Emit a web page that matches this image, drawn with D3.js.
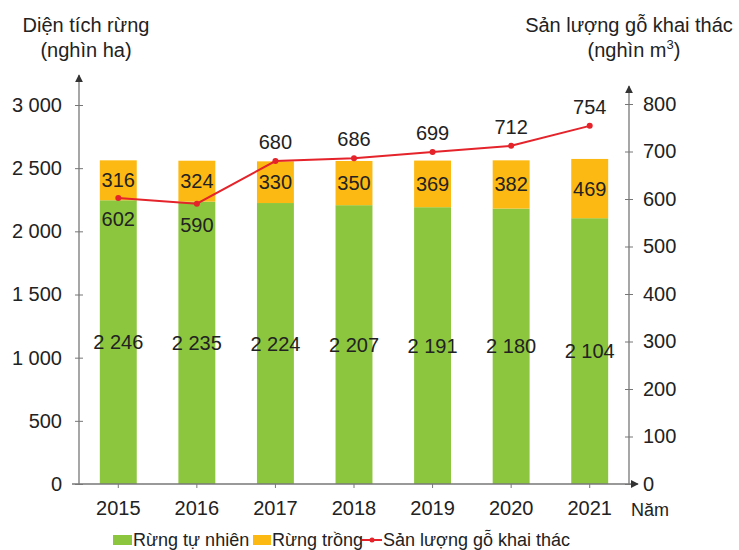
<!DOCTYPE html>
<html><head><meta charset="utf-8">
<script src="https://cdn.jsdelivr.net/npm/d3@7"></script>
<style>body{margin:0;background:#fff;}svg{display:block;font-family:"Liberation Sans",Arial,sans-serif;}</style>
</head><body>
<svg id="c" width="739" height="550"></svg>
<script>
const years = ["2015","2016","2017","2018","2019","2020","2021"];
const natural = [2246,2235,2224,2207,2191,2180,2104];
const planted = [316,324,330,350,369,382,469];
const timber = [602,590,680,686,699,712,754];
const leftTicks = [0,500,1000,1500,2000,2500,3000];
const rightTicks = [0,100,200,300,400,500,600,700,800];
const labelBelow = [true,true,false,false,false,false,false];

const C_GREEN = "#8cc63e", C_ORANGE = "#fdb913", C_RED = "#e4232a", AX = "#777";
const FS = "20px";
const svg = d3.select("#c");
const x = d3.scaleBand().domain(years).range([79,629]).paddingInner(0.53).paddingOuter(0.265);
const yL = d3.scaleLinear().domain([0,3000]).range([484,105]);
const yR = d3.scaleLinear().domain([0,800]).range([484,104]);
const fmt = v => d3.format(",")(v).replace(/,/g," ");
const cx = d => x(d) + x.bandwidth()/2;

// bars
const g = svg.append("g");
years.forEach((yr,i)=>{
  g.append("rect").attr("x",x(yr)).attr("width",x.bandwidth())
    .attr("y",yL(natural[i])).attr("height",yL(0)-yL(natural[i])).attr("fill",C_GREEN);
  g.append("rect").attr("x",x(yr)).attr("width",x.bandwidth())
    .attr("y",yL(natural[i]+planted[i])).attr("height",yL(natural[i])-yL(natural[i]+planted[i])).attr("fill",C_ORANGE);
});

// axes
const axL = d3.axisLeft(yL).tickValues(leftTicks).tickFormat(fmt).tickSize(4).tickPadding(13);
const gl = svg.append("g").attr("transform","translate(79,0)").call(axL);
const axR = d3.axisRight(yR).tickValues(rightTicks).tickSize(4).tickPadding(10);
const gr = svg.append("g").attr("transform","translate(629,0)").call(axR);
const axB = d3.axisBottom(x).tickSize(4).tickPadding(13);
const gb = svg.append("g").attr("transform","translate(0,484)").call(axB);
[gl,gr,gb].forEach(a=>{
  a.select(".domain").remove();
  a.selectAll(".tick line").attr("stroke",AX);
  a.selectAll(".tick text").attr("fill","#222").style("font-size",FS).style("font-family","'Liberation Sans',Arial,sans-serif");
});
gl.selectAll(".tick line").attr("x1",4);
gr.selectAll(".tick line").attr("x1",-4);
// axis lines with arrows
svg.append("defs").append("marker").attr("id","arr").attr("viewBox","0 0 10 10").attr("refX",9).attr("refY",5)
  .attr("markerWidth",6).attr("markerHeight",6).attr("orient","auto")
  .append("path").attr("d","M0,0L10,5L0,10z").attr("fill","#333");
svg.append("line").attr("x1",79).attr("x2",79).attr("y1",484).attr("y2",75).attr("stroke",AX).attr("stroke-width",1.3).attr("marker-end","url(#arr)");
svg.append("line").attr("x1",629).attr("x2",629).attr("y1",484).attr("y2",86).attr("stroke",AX).attr("stroke-width",1.3).attr("marker-end","url(#arr)");
svg.append("line").attr("x1",72).attr("x2",638).attr("y1",484).attr("y2",484).attr("stroke",AX).attr("stroke-width",1.3).attr("marker-end","url(#arr)");

// line
const line = d3.line().x((d,i)=>cx(years[i])).y(d=>yR(d));
svg.append("path").datum(timber).attr("d",line).attr("fill","none").attr("stroke",C_RED).attr("stroke-width",2);
svg.selectAll(".pt").data(timber).enter().append("circle").attr("cx",(d,i)=>cx(years[i])).attr("cy",d=>yR(d)).attr("r",3).attr("fill",C_RED);

// labels
const lab = svg.append("g").attr("fill","#222").attr("text-anchor","middle").style("font-size",FS);
years.forEach((yr,i)=>{
  lab.append("text").attr("x",cx(yr)).attr("y",(yL(natural[i])+yL(0))/2+7).text(fmt(natural[i]));
  lab.append("text").attr("x",cx(yr)).attr("y",(yL(natural[i])+yL(natural[i]+planted[i]))/2+7).text(planted[i]);
  lab.append("text").attr("x",cx(yr)).attr("y",labelBelow[i]? yR(timber[i])+28 : yR(timber[i])-12).text(timber[i]);
});

// titles
const t = svg.append("g").attr("fill","#222").attr("text-anchor","middle").style("font-size",FS);
t.append("text").attr("x",86).attr("y",32).text("Diện tích rừng");
t.append("text").attr("x",86).attr("y",57).text("(nghìn ha)");
t.append("text").attr("x",629).attr("y",32).text("Sản lượng gỗ khai thác");
const t2 = t.append("text").attr("x",634).attr("y",57);
t2.append("tspan").text("(nghìn m");
t2.append("tspan").attr("dy",-8).style("font-size","13px").text("3");
t2.append("tspan").attr("dy",8).text(")");
svg.append("text").attr("x",631).attr("y",516).attr("fill","#222").style("font-size","18px").text("Năm");

// legend
const lg = svg.append("g").style("font-size","18px").attr("fill","#222");
lg.append("rect").attr("x",113).attr("y",535).attr("width",19).attr("height",10).attr("fill",C_GREEN);
lg.append("text").attr("x",133).attr("y",546).text("Rừng tự nhiên");
lg.append("rect").attr("x",253).attr("y",535).attr("width",18).attr("height",10).attr("fill",C_ORANGE);
lg.append("text").attr("x",272).attr("y",546).text("Rừng trồng");
lg.append("line").attr("x1",362).attr("x2",382).attr("y1",540).attr("y2",540).attr("stroke",C_RED).attr("stroke-width",2);
lg.append("circle").attr("cx",372).attr("cy",540).attr("r",2.5).attr("fill",C_RED);
lg.append("text").attr("x",383).attr("y",546).text("Sản lượng gỗ khai thác");
</script>
</body></html>
